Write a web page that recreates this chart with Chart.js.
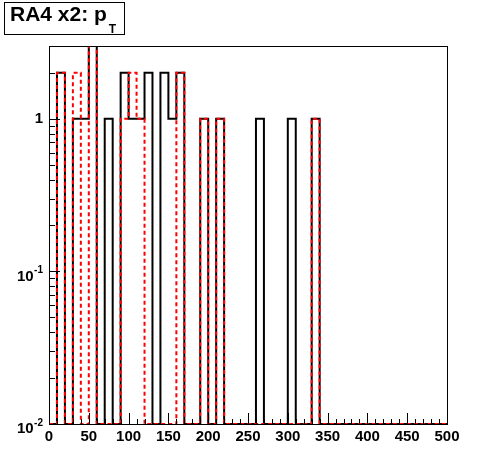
<!DOCTYPE html>
<html>
<head>
<meta charset="utf-8">
<script src="https://cdn.jsdelivr.net/npm/chart.js@4.4.0/dist/chart.umd.min.js"></script>
<style>
  html, body { margin: 0; padding: 0; background: #fff; }
  #wrap { width: 496px; height: 472px; position: relative; }
</style>
</head>
<body>
<div id="wrap"><canvas id="c"></canvas></div>
<script>
// Histogram contents, one value per 10-unit bin from 0 to 500
const binWidth = 10;
const xMin = 0;
const xMax = 500;
const yMin = 0.01;
const yMax = 3;

const blackCounts = [
  0, 2, 0, 1, 1, 3, 0, 1, 0, 2,
  1, 1, 2, 0, 2, 1, 2, 0, 0, 1,
  0, 1, 0, 0, 0, 0, 1, 0, 0, 0,
  1, 0, 0, 1, 0, 0, 0, 0, 0, 0,
  0, 0, 0, 0, 0, 0, 0, 0, 0, 0
];
const redCounts = [
  0, 2, 0, 2, 0, 3, 0, 0, 0, 1,
  2, 1, 0, 0, 0, 0, 2, 0, 0, 1,
  0, 1, 0, 0, 0, 0, 0, 0, 0, 0,
  0, 0, 0, 1, 0, 0, 0, 0, 0, 0,
  0, 0, 0, 0, 0, 0, 0, 0, 0, 0
];

const xLabelValues = [0, 50, 100, 150, 200, 250, 300, 350, 400, 450, 500];
const yTickValues = [0.01, 0.1, 1];
const yTickLabels = [['10', '-2'], ['10', '-1'], ['1', '']];

const titleText = 'RA4 x2: p';
const titleSub = 'T';

// step points at bin edges; empty bins sit on the axis floor like ROOT does
function toSteps(counts) {
  const pts = counts.map((v, i) => ({ x: xMin + i * binWidth, y: v > 0 ? v : yMin }));
  const last = counts[counts.length - 1];
  pts.push({ x: xMin + counts.length * binWidth, y: last > 0 ? last : yMin });
  return pts;
}

const FONT = '"Liberation Sans", Arial, sans-serif';

const framePlugin = {
  id: 'rootFrame',
  afterDraw(chart) {
    const ctx = chart.ctx;
    const a = chart.chartArea;
    const xs = chart.scales.x;
    const ys = chart.scales.y;
    ctx.save();
    ctx.strokeStyle = '#000';
    ctx.lineWidth = 1;
    ctx.strokeRect(Math.round(a.left) + 0.5, Math.round(a.top) + 0.5,
      Math.round(a.right - a.left), Math.round(a.bottom - a.top));

    // x ticks, drawn inward from the bottom
    ctx.beginPath();
    for (let v = xMin; v <= xMax; v += binWidth) {
      const px = Math.round(xs.getPixelForValue(v)) + 0.5;
      const len = v % 50 === 0 ? 11 : 5;
      ctx.moveTo(px, a.bottom);
      ctx.lineTo(px, a.bottom - len);
    }
    // y ticks, log minor ticks at 2..9 of each decade
    for (let dec = -2; dec <= 0; dec++) {
      for (let m = 1; m <= 9; m++) {
        const v = m * Math.pow(10, dec);
        if (v < yMin || v > yMax) continue;
        const py = Math.round(ys.getPixelForValue(v)) + 0.5;
        const len = m === 1 ? 11 : 6;
        ctx.moveTo(a.left, py);
        ctx.lineTo(a.left + len, py);
      }
    }
    ctx.stroke();

    // x labels
    ctx.fillStyle = '#000';
    ctx.font = 'bold 15px ' + FONT;
    ctx.textAlign = 'center';
    ctx.textBaseline = 'top';
    for (const v of xLabelValues) {
      ctx.fillText(String(v), xs.getPixelForValue(v), a.bottom + 5);
    }

    // y labels with superscript exponents
    ctx.textBaseline = 'middle';
    ctx.textAlign = 'right';
    yTickValues.forEach((v, i) => {
      const py = ys.getPixelForValue(v);
      const [base, exp] = yTickLabels[i];
      const right = a.left - 6;
      if (exp) {
        ctx.font = 'bold 10px ' + FONT;
        const ew = ctx.measureText(exp).width;
        ctx.fillText(exp, right, py - 1);
        ctx.font = 'bold 15px ' + FONT;
        ctx.fillText(base, right - ew - 0.5, py + 5);
      } else {
        ctx.font = 'bold 15px ' + FONT;
        ctx.fillText(base, right, py);
      }
    });

    // title box
    ctx.fillStyle = '#fff';
    ctx.fillRect(4, 2, 120, 32);
    ctx.strokeRect(4.5, 2.5, 120, 32);
    ctx.fillStyle = '#000';
    ctx.textAlign = 'left';
    ctx.textBaseline = 'alphabetic';
    ctx.font = 'bold 21px ' + FONT;
    ctx.fillText(titleText, 10, 21);
    const tw = ctx.measureText(titleText).width;
    ctx.font = 'bold 12px ' + FONT;
    ctx.fillText(titleSub, 10 + tw + 2, 33);
    ctx.restore();
  }
};

new Chart(document.getElementById('c'), {
  type: 'line',
  data: {
    datasets: [
      {
        label: 'red',
        data: toSteps(redCounts),
        borderColor: '#ff0000',
        borderWidth: 2,
        borderDash: [4, 3],
        stepped: 'before',
        pointRadius: 0,
        fill: false,
      },
      {
        label: 'black',
        data: toSteps(blackCounts),
        borderColor: '#000000',
        borderWidth: 2,
        stepped: 'before',
        pointRadius: 0,
        fill: false,
      },
    ],
  },
  plugins: [framePlugin],
  options: {
    responsive: true,
    maintainAspectRatio: false,
    animation: false,
    events: [],
    layout: { padding: { left: 49, right: 49, top: 46, bottom: 48 } },
    scales: {
      x: { type: 'linear', min: xMin, max: xMax, display: false },
      y: { type: 'logarithmic', min: yMin, max: yMax, display: false },
    },
    plugins: {
      legend: { display: false },
      tooltip: { enabled: false },
    },
  },
});
</script>
</body>
</html>
